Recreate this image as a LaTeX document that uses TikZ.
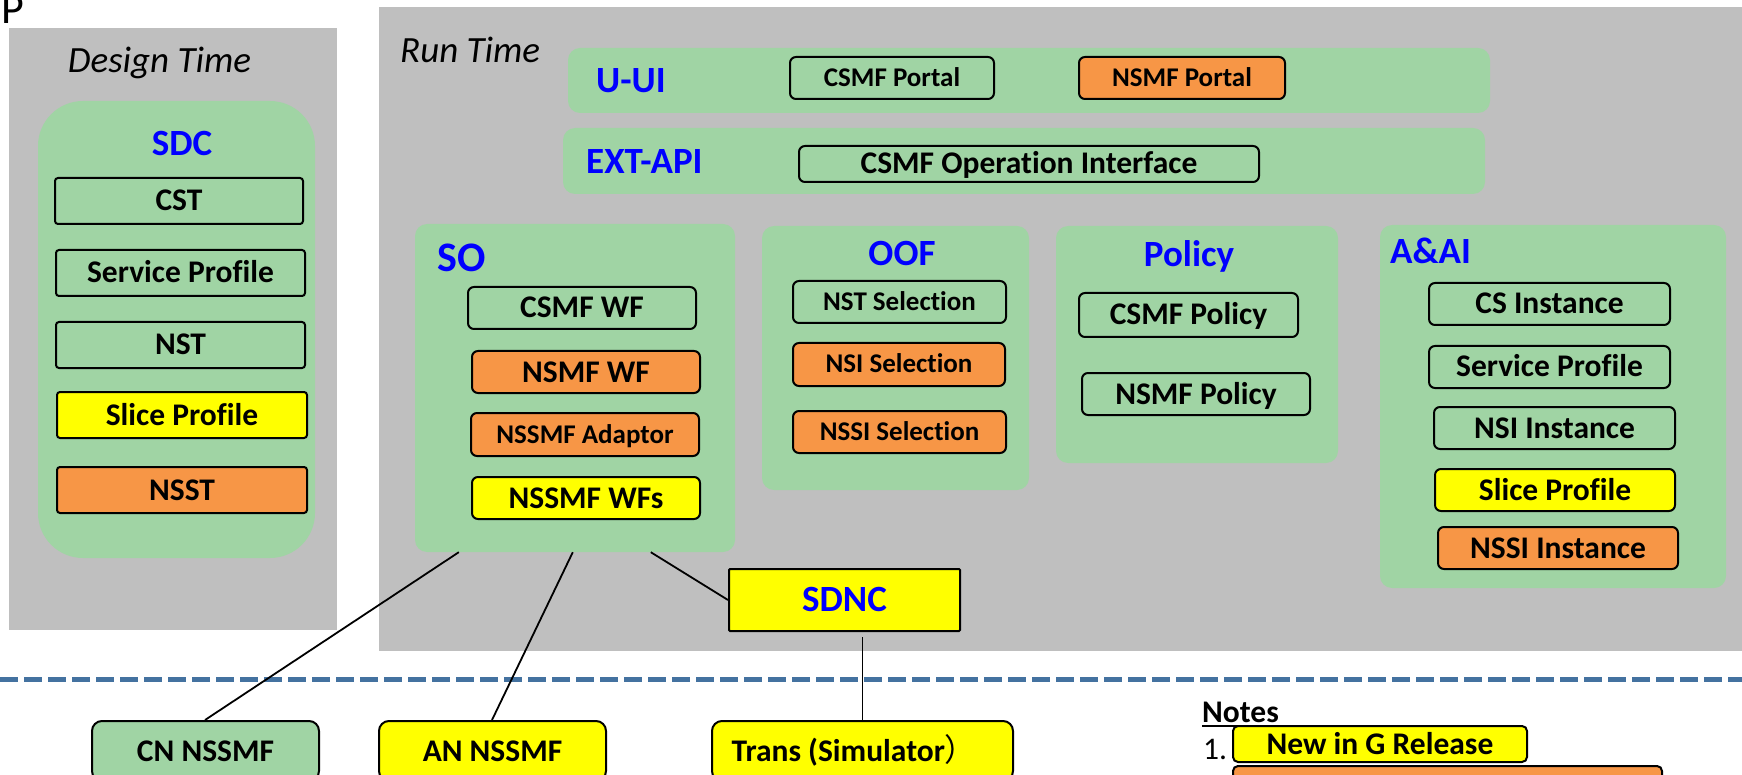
\documentclass[tikz,border=0pt]{standalone}
\usepackage{fontspec}
\setmainfont{Carlito}[Ligatures=CommonOff]
\newfontfamily\cjkfont{Noto Sans CJK SC}
\usetikzlibrary{calc}
\definecolor{bggray}{RGB}{191,191,191}
\definecolor{cgreen}{RGB}{160,212,164}
\definecolor{corange}{RGB}{247,150,70}
\definecolor{cyellow}{RGB}{255,255,0}
\definecolor{hblue}{RGB}{0,0,255}
\definecolor{dashblue}{RGB}{68,114,160}
\begin{document}
\begin{tikzpicture}[x=1pt,y=-1pt,
  panel/.style={fill=bggray, draw=none, inner sep=0pt, rectangle},
  cont/.style={fill=cgreen, draw=none, rounded corners=12pt, inner sep=0pt},
  item/.style={draw=black, line width=2pt, rounded corners=6pt, fill=cgreen, inner sep=0pt,
    text height=20pt, text depth=0pt, font=\bfseries\fontsize{31.5}{36}\selectfont},
  sitem/.style={item, text height=17pt, font=\bfseries\fontsize{27}{32}\selectfont},
  yitem/.style={item, fill=cyellow},
  oitem/.style={item, fill=corange},
  bitem/.style={item, rounded corners=10pt},
  head/.style={inner sep=0pt, text=hblue, font=\bfseries\fontsize{37}{40}\selectfont},
  ital/.style={inner sep=0pt, font=\itshape\fontsize{37}{40}\selectfont},
  conn/.style={draw=black, line width=1.8pt},
]
\useasboundingbox (0,0) rectangle (1742,775);

% background panels
\node[panel, minimum width=328pt, minimum height=602pt] (design) at (173,329) {};
\node[panel, minimum width=1363pt, minimum height=644pt] (run) at (1060.5,329) {};
\node[inner sep=0pt, anchor=base west, font=\fontsize{44}{48}\selectfont] (ptxt) at (1,24) {P};
\node[ital, anchor=base] (dtime) at (159.5,73) {Design Time};
\node[ital, anchor=base west] (rtime) at (400,63) {Run Time};

% SDC
\node[cont, rounded corners=45pt, minimum width=277pt, minimum height=457pt] (sdc) at (176.5,329.5) {};
\node[head, anchor=base] (sdch) at (182,156) {SDC};
\node[item, minimum width=248pt, minimum height=46pt, rounded corners=3pt] (cst) at (179,201) {CST};
\node[item, minimum width=249pt, minimum height=46pt, rounded corners=3pt] (sdcsp) at (180.5,273) {Service Profile};
\node[item, minimum width=249pt, minimum height=46pt, rounded corners=3pt] (nst) at (180.5,345) {NST};
\node[yitem, minimum width=250pt, minimum height=46pt, rounded corners=3pt] (sdcslp) at (182,415) {Slice Profile};
\node[oitem, minimum width=250pt, minimum height=46pt, rounded corners=3pt] (nsst) at (182,490) {NSST};

% U-UI
\node[cont, minimum width=922pt, minimum height=65pt] (uui) at (1029,80.5) {};
\node[head, anchor=base west] (uuih) at (596,93) {U-UI};
\node[sitem, minimum width=204pt, minimum height=42pt] (csmfp) at (892,78) {CSMF Portal};
\node[sitem, fill=corange, minimum width=206pt, minimum height=42pt] (nsmfp) at (1182,78) {NSMF Portal};

% EXT-API
\node[cont, minimum width=922pt, minimum height=66pt] (extapi) at (1024,161) {};
\node[head, anchor=base west] (extapih) at (586,174) {EXT-API};
\node[item, minimum width=460pt, minimum height=36pt] (csmfoi) at (1029,164) {CSMF Operation Interface};

% SO
\node[cont, minimum width=320pt, minimum height=328pt] (so) at (575,388) {};
\node[head, anchor=base west, font=\bfseries\fontsize{42}{46}\selectfont] (soh) at (437,272) {SO};
\node[item, minimum width=228pt, minimum height=42pt] (csmfwf) at (582,308) {CSMF WF};
\node[oitem, minimum width=228pt, minimum height=42pt] (nsmfwf) at (586,372) {NSMF WF};
\node[sitem, fill=corange, minimum width=228pt, minimum height=43pt] (nssmfad) at (585,434.5) {NSSMF Adaptor};
\node[yitem, minimum width=228pt, minimum height=42pt] (nssmfwfs) at (586,498) {NSSMF WFs};

% OOF
\node[cont, minimum width=267pt, minimum height=264pt] (oof) at (895.5,358) {};
\node[head, anchor=base] (oofh) at (902,266) {OOF};
\node[sitem, minimum width=213pt, minimum height=42pt] (nstsel) at (899.5,302) {NST Selection};
\node[sitem, fill=corange, minimum width=212pt, minimum height=43pt] (nsisel) at (899,364.5) {NSI Selection};
\node[sitem, fill=corange, minimum width=213pt, minimum height=42pt] (nssisel) at (899.5,432) {NSSI Selection};

% Policy
\node[cont, minimum width=282pt, minimum height=237pt] (policy) at (1197,344.5) {};
\node[head, anchor=base] (policyh) at (1189,267) {Policy};
\node[item, minimum width=219pt, minimum height=44pt] (csmfpol) at (1188.5,315) {CSMF Policy};
\node[item, minimum width=228pt, minimum height=42pt] (nsmfpol) at (1196,394) {NSMF Policy};

% A&AI
\node[cont, minimum width=346pt, minimum height=363pt] (aai) at (1553,406.5) {};
\node[head, anchor=base west] (aaih) at (1390,264) {A\&AI};
\node[item, minimum width=241pt, minimum height=42pt] (csinst) at (1549.5,304) {CS Instance};
\node[item, minimum width=241pt, minimum height=42pt] (aaisp) at (1549.5,367) {Service Profile};
\node[item, minimum width=241pt, minimum height=42pt] (nsiinst) at (1554.5,428) {NSI Instance};
\node[yitem, minimum width=240pt, minimum height=42pt] (aaislp) at (1555,490) {Slice Profile};
\node[oitem, minimum width=240pt, minimum height=42pt] (nssiinst) at (1558,548) {NSSI Instance};

% SDNC
\node[yitem, rounded corners=1pt, minimum width=231pt, minimum height=62pt, text=hblue,
  text height=23pt, font=\bfseries\fontsize{37}{40}\selectfont] (sdnc) at (844.5,600) {SDNC};

% divider
\coordinate (divl) at (0,679);
\coordinate (divr) at (1742,679);
\draw[dashblue, line width=5pt, dash pattern=on 18pt off 6pt] (divl) -- (divr);

% bottom boxes
\node[bitem, minimum width=227pt, minimum height=60pt] (cn) at (205.5,751) {CN NSSMF};
\node[bitem, fill=cyellow, minimum width=227pt, minimum height=60pt] (an) at (492.5,751) {AN NSSMF};
\node[bitem, fill=cyellow, minimum width=301pt, minimum height=60pt] (trans) at (862.5,751) {Trans (Simulator{\cjkfont\mdseries ）}\kern17pt};

% connectors
\draw[conn] ([xshift=44pt]so.south west) -- ([xshift=114pt]cn.north west);
\draw[conn] ([xshift=158pt]so.south west) -- ([xshift=114pt]an.north west);
\draw[conn] ([xshift=236pt]so.south west) -- (sdnc.west);
\coordinate (sdncb) at ([yshift=-5pt]sdnc.south);
\draw[conn] (sdncb -| trans.north) -- (trans.north);

% notes
\node[inner sep=0pt, anchor=base west, font=\bfseries\fontsize{31.5}{36}\selectfont] (notes) at (1202,722) {Notes};
\draw[line width=2pt] ([yshift=-4pt]notes.base west) -- ([yshift=-4pt]notes.base east);
\node[inner sep=0pt, anchor=base west, font=\fontsize{31.5}{36}\selectfont] (num1) at (1203,759) {1.};
\node[yitem, rounded corners=5pt, minimum width=294pt, minimum height=36pt] (legnew) at (1380,744) {New in G Release};
\node[oitem, rounded corners=5pt, minimum width=429pt, minimum height=40pt] (legmod) at (1447.5,786) {};
\end{tikzpicture}
\end{document}
